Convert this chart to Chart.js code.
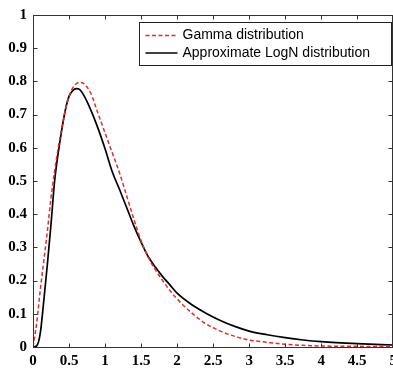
<!DOCTYPE html>
<html>
<head>
<meta charset="utf-8">
<script src="https://cdn.jsdelivr.net/npm/chart.js@4.4.0/dist/chart.umd.min.js"></script>
<style>
html,body{margin:0;padding:0;background:#fff;overflow:hidden;}
#wrap{width:402px;height:371px;}
</style>
</head>
<body>
<div id="wrap"><canvas id="c" width="402" height="371"></canvas></div>
<script>
const xValues = [0,0.05,0.1,0.15,0.2,0.25,0.3,0.35,0.4,0.45,0.5,0.55,0.6,0.65,0.7,0.8,0.9,1.0,1.1,1.2,1.3,1.4,1.5,1.6,1.7,1.8,1.9,2.0,2.2,2.4,2.6,2.8,3.0,3.25,3.5,3.75,4.0,4.5,5.0];
const gammaValues = [0,0.07,0.17,0.26,0.35,0.45,0.53,0.6,0.66,0.715,0.755,0.78,0.793,0.797,0.794,0.765,0.705,0.645,0.585,0.525,0.455,0.385,0.32,0.27,0.232,0.2,0.17,0.145,0.103,0.07,0.048,0.032,0.021,0.014,0.008,0.005,0.003,0.002,0.001];
const lognValues = [0,0.003,0.04,0.14,0.25,0.37,0.5,0.585,0.655,0.715,0.755,0.772,0.778,0.775,0.76,0.715,0.66,0.597,0.528,0.475,0.42,0.365,0.316,0.272,0.24,0.212,0.187,0.162,0.128,0.102,0.08,0.062,0.048,0.037,0.028,0.021,0.016,0.01,0.006];
const seriesLabels = ['Gamma distribution','Approximate LogN distribution'];
const xTickStep = 0.5, yTickStep = 0.1;

const frameColor = '#333';
const tickFont = {family:'"Liberation Serif", "Times New Roman", serif', size:15, weight:'bold'};
const fmt = v => String(Math.round(v*100)/100);

const framePlugin = {
  id:'frame',
  afterDraw(chart){
    const ctx = chart.ctx, ca = chart.chartArea;
    const xs = chart.scales.x, ys = chart.scales.y;
    ctx.save();
    ctx.strokeStyle = frameColor;
    ctx.lineWidth = 1;
    const L = Math.round(ca.left)+0.5, R = Math.round(ca.right)-0.5, T = Math.round(ca.top)+0.5, B = Math.round(ca.bottom)+0.5;
    ctx.strokeRect(L, T, R-L, B-T);
    const tl = 4;
    ctx.beginPath();
    xs.ticks.forEach(t=>{
      const px = Math.round(xs.getPixelForValue(t.value))+0.5;
      ctx.moveTo(px, B); ctx.lineTo(px, B-tl);
      ctx.moveTo(px, T); ctx.lineTo(px, T+tl);
    });
    ys.ticks.forEach(t=>{
      const py = Math.round(ys.getPixelForValue(t.value))+0.5;
      ctx.moveTo(L, py); ctx.lineTo(L+tl, py);
      ctx.moveTo(R, py); ctx.lineTo(R-tl, py);
    });
    ctx.stroke();

    // legend
    const bw = 252, bh = 43;
    const bx = Math.round(ca.right - bw - 2)+0.5, by = Math.round(ca.top + 7)+0.5;
    ctx.fillStyle = '#fff';
    ctx.fillRect(bx, by, bw, bh);
    ctx.strokeStyle = '#222';
    ctx.strokeRect(bx, by, bw, bh);
    ctx.font = '14px "Liberation Sans", Arial, sans-serif';
    ctx.textBaseline = 'middle';
    chart.data.datasets.forEach((ds,i)=>{
      const cy = by + 13 + i*17.5;
      ctx.save();
      ctx.strokeStyle = ds.borderColor;
      ctx.lineWidth = ds.borderWidth;
      ctx.setLineDash(ds.borderDash || []);
      ctx.beginPath();
      ctx.moveTo(bx+6, cy); ctx.lineTo(bx+38, cy);
      ctx.stroke();
      ctx.restore();
      ctx.fillStyle = '#000';
      ctx.fillText(ds.label, bx+43, cy);
    });
    ctx.restore();
  }
};

new Chart(document.getElementById('c'), {
  type:'line',
  data:{
    datasets:[
      {label:seriesLabels[0], data:xValues.map((x,i)=>({x, y:gammaValues[i]})), borderColor:'#e32b2b', borderWidth:1.5, borderDash:[4,2.5], pointRadius:0, fill:false, cubicInterpolationMode:'monotone'},
      {label:seriesLabels[1], data:xValues.map((x,i)=>({x, y:lognValues[i]})), borderColor:'#000', borderWidth:1.7, pointRadius:0, fill:false, cubicInterpolationMode:'monotone'}
    ]
  },
  options:{
    responsive:false,
    animation:false,
    devicePixelRatio:1,
    layout:{padding:{top:8,left:0,right:0,bottom:0}},
    plugins:{legend:{display:false}, tooltip:{enabled:false}},
    scales:{
      x:{type:'linear', min:0, max:5,
        ticks:{stepSize:xTickStep, font:tickFont, color:'#000', padding:5, maxRotation:0, autoSkip:false, callback:fmt},
        grid:{display:false, drawTicks:false}, border:{display:false},
        afterFit(s){ s.height = 24; }
      },
      y:{type:'linear', min:0, max:1,
        ticks:{stepSize:yTickStep, font:tickFont, color:'#000', padding:6, autoSkip:false, callback:fmt},
        grid:{display:false, drawTicks:false}, border:{display:false},
        afterFit(s){ s.width = 33; }
      }
    }
  },
  plugins:[framePlugin]
});
</script>
</body>
</html>
